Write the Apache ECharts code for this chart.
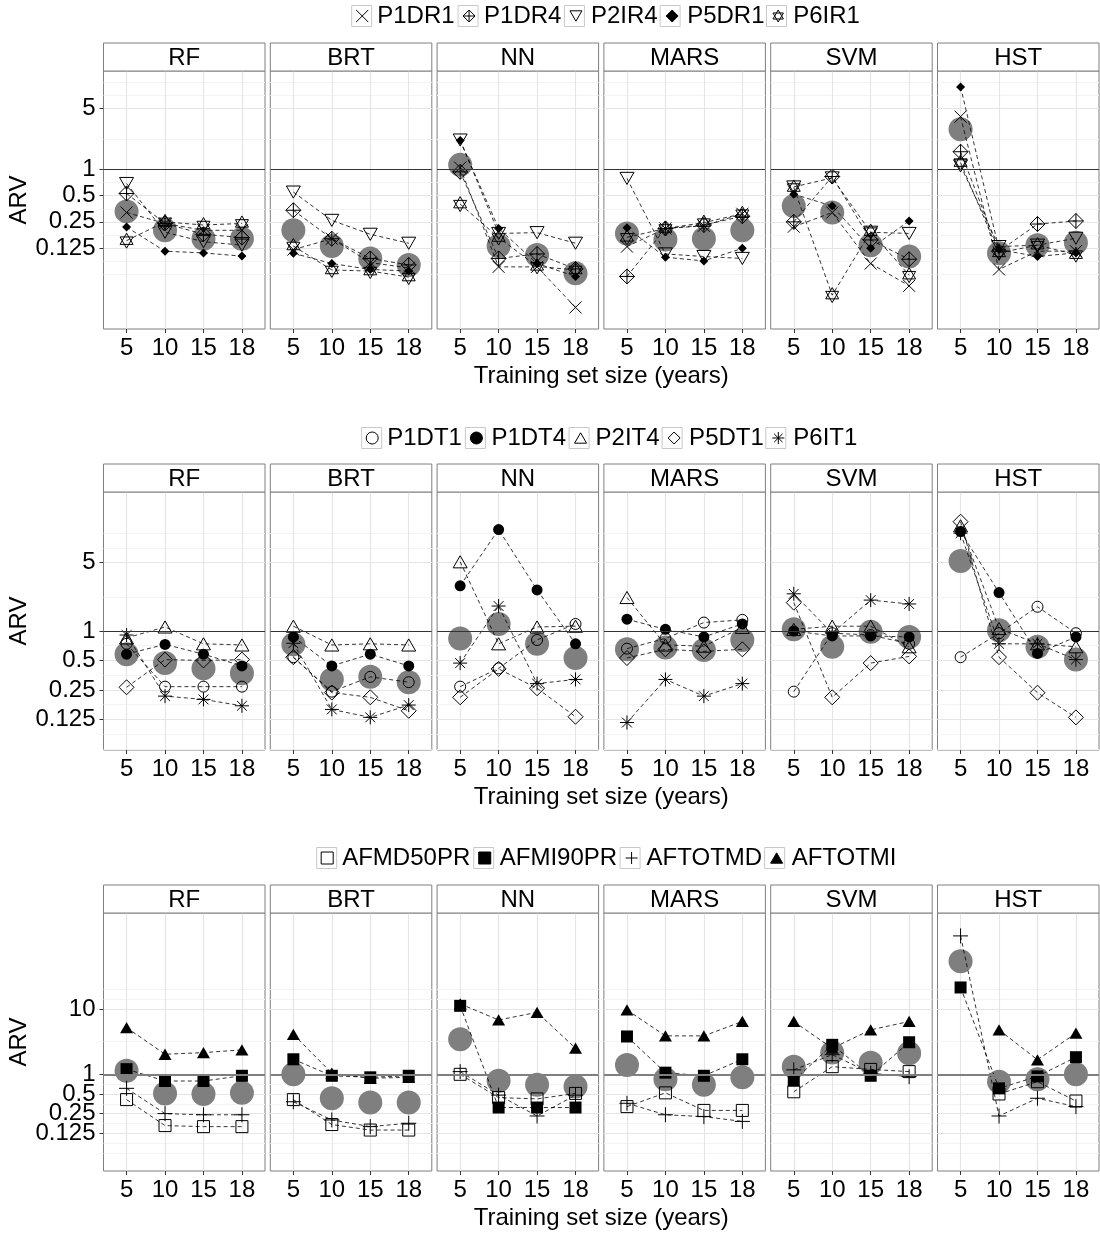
<!DOCTYPE html>
<html>
<head>
<meta charset="utf-8">
<title>ARV by training set size</title>
<script src="https://cdn.jsdelivr.net/npm/echarts@6/dist/echarts.min.js"></script>
<style>
  html, body { margin: 0; padding: 0; background: #fff; }
  #chart { width: 1100px; height: 1235px; }
</style>
</head>
<body>
<div id="chart"></div>
<script>
// ---- data (ARV values; one row of 4 per model panel) ----
const years = ['5', '10', '15', '18'];
const models = ['RF', 'BRT', 'NN', 'MARS', 'SVM', 'HST'];

// row 1
const P1DR1 = [[0.32, 0.24, 0.2, 0.2], [0.12, 0.16, 0.085, 0.074], [1.05, 0.076, 0.076, 0.026], [0.13, 0.21, 0.225, 0.31], [0.22, 0.32, 0.083, 0.046], [4.05, 0.071, 0.115, 0.115]];
const P1DR4 = [[0.53, 0.24, 0.18, 0.165], [0.34, 0.16, 0.095, 0.08], [0.94, 0.095, 0.107, 0.072], [0.059, 0.21, 0.23, 0.29], [0.25, 0.83, 0.155, 0.093], [1.6, 0.115, 0.236, 0.256]];
const P2IR4 = [[0.69, 0.19, 0.148, 0.135], [0.55, 0.26, 0.18, 0.142], [2.18, 0.184, 0.188, 0.142], [0.79, 0.107, 0.1, 0.095], [0.63, 0.8, 0.19, 0.184], [1.1, 0.13, 0.135, 0.162]];
const P5DR1 = [[0.218, 0.115, 0.11, 0.101], [0.109, 0.083, 0.071, 0.068], [2.15, 0.21, 0.083, 0.059], [0.214, 0.098, 0.089, 0.124], [0.52, 0.38, 0.124, 0.256], [8.9, 0.12, 0.1, 0.11]];
const P6IR1 = [[0.152, 0.25, 0.23, 0.24], [0.132, 0.07, 0.068, 0.058], [0.4, 0.165, 0.077, 0.07], [0.166, 0.21, 0.245, 0.31], [0.62, 0.036, 0.193, 0.061], [1.2, 0.11, 0.135, 0.105]];
const mean1 = [[0.33, 0.2, 0.16, 0.16], [0.2, 0.132, 0.095, 0.08], [1.13, 0.132, 0.104, 0.064], [0.184, 0.157, 0.16, 0.2], [0.38, 0.32, 0.135, 0.1], [2.9, 0.109, 0.135, 0.144]];

// row 2
const P1DT1 = [[0.74, 0.27, 0.27, 0.27], [0.54, 0.24, 0.34, 0.3], [0.27, 0.415, 0.81, 1.18], [0.66, 0.84, 1.22, 1.3], [0.24, 0.95, 0.91, 0.74], [0.54, 0.95, 1.77, 0.95]];
const P1DT4 = [[0.58, 0.73, 0.58, 0.44], [0.87, 0.44, 0.58, 0.44], [2.9, 10.9, 2.63, 0.74], [1.32, 1.04, 0.87, 1.18], [1.0, 0.89, 0.89, 0.87], [10.4, 2.47, 0.59, 0.87]];
const P2IT4 = [[0.85, 1.1, 0.74, 0.72], [1.12, 0.72, 0.74, 0.72], [5.1, 0.74, 1.1, 1.12], [2.2, 0.72, 0.7, 1.09], [1.04, 1.12, 1.12, 0.69], [11.9, 1.06, 0.74, 0.69]];
const P5DT1 = [[0.266, 0.51, 0.5, 0.51], [0.54, 0.235, 0.21, 0.153], [0.21, 0.41, 0.26, 0.133], [0.53, 0.65, 0.62, 0.65], [1.95, 0.21, 0.47, 0.55], [13.1, 0.54, 0.234, 0.131]];
const P6IT1 = [[0.91, 0.216, 0.2, 0.172], [0.75, 0.158, 0.131, 0.175], [0.47, 1.8, 0.29, 0.32], [0.116, 0.32, 0.216, 0.29], [2.4, 0.95, 2.07, 1.89], [10, 0.74, 0.74, 0.51]];
const mean2 = [[0.58, 0.47, 0.415, 0.37], [0.73, 0.32, 0.34, 0.3], [0.84, 1.18, 0.74, 0.53], [0.65, 0.68, 0.64, 0.81], [1.04, 0.69, 0.98, 0.87], [5.2, 1.02, 0.69, 0.51]];

// row 3
const AFMD50PR = [[0.41, 0.164, 0.158, 0.158], [0.41, 0.17, 0.14, 0.14], [1.0, 0.44, 0.42, 0.51], [0.32, 0.52, 0.28, 0.28], [0.54, 1.31, 1.19, 1.1], [null, 0.5, 0.77, 0.39]];
const AFMI90PR = [[1.2, 0.79, 0.79, 0.95], [1.7, 0.95, 0.9, 0.95], [11.2, 0.31, 0.31, 0.31], [3.8, 1.06, 0.95, 1.7], [0.8, 2.83, 0.95, 3.1], [21.4, 0.61, 0.93, 1.83]];
const AFTOTMD = [[0.61, 0.25, 0.24, 0.24], [0.38, 0.2, 0.158, 0.178], [1.1, 0.48, 0.23, 0.48], [0.36, 0.24, 0.225, 0.19], [1.17, 2.0, 1.04, 0.92], [132, 0.23, 0.43, 0.32]];
const AFTOTMI = [[5.2, 2.03, 2.15, 2.37], [4.1, 1.04, 0.87, 0.9], [12, 6.8, 8.9, 2.51], [9.7, 3.88, 3.88, 6.45], [6.45, 2.51, 4.8, 6.45], [null, 4.8, 1.67, 4.27]];
const mean3 = [[1.13, 0.51, 0.5, 0.52], [1.0, 0.43, 0.37, 0.37], [3.45, 0.8, 0.69, 0.65], [1.39, 0.84, 0.69, 0.9], [1.31, 2.15, 1.51, 2.1], [54, 0.77, 0.84, 1.0]];

// y breaks of each row
const ticks1 = [0.125, 0.25, 0.5, 1, 5];
const ticks2 = [0.125, 0.25, 0.5, 1, 5];
const ticks3 = [0.125, 0.25, 0.5, 1, 10];

// ---- look ----
const FONT = '"Liberation Sans", Arial, Helvetica, sans-serif';
const FS = 24;
const BORDER = '#7f7f7f';
const GRID_MAJOR = '#e5e5e5';
const GRID_MINOR = '#f4f4f4';

const PANEL_LEFT = 103.5, PANEL_W = 161.5, PANEL_STEP = 166.8, PANEL_H = 258, STRIP_H = 28;
const ROW_TOP = [71, 492, 913];
const LEGEND_BOX_LEFT = [351.7, 361.7, 316.7];
const LEGEND_MID = [16, 438, 858];
const LEGEND_GAP = 8;
const LEGEND_ICON = 12;

const SYM = {
  cross: 'path://M0 0L10 10M10 0L0 10',
  diamondPlus: 'path://M5 0L10 5L5 10L0 5ZM5 0L5 10M0 5L10 5',
  triDown: 'path://M0 0L10 0L5 8.66Z',
  diamond: 'path://M5 0L10 5L5 10L0 5Z',
  star: 'path://M5 0L10 8.66L0 8.66ZM0 2.89L10 2.89L5 11.55Z',
  circle: 'path://M0 5A5 5 0 1 1 10 5A5 5 0 1 1 0 5Z',
  triUp: 'path://M5 0L10 8.66L0 8.66Z',
  square: 'path://M0 0L10 0L10 10L0 10Z',
  plus: 'path://M5 0L5 10M0 5L10 5',
  asterisk: 'path://M5 0L5 10M0 5L10 5M1.5 1.5L8.5 8.5M8.5 1.5L1.5 8.5'
};

const rows = [
  {
    names: ['P1DR1', 'P1DR4', 'P2IR4', 'P5DR1', 'P6IR1'],
    values: [P1DR1, P1DR4, P2IR4, P5DR1, P6IR1],
    mean: mean1, ticks: ticks1, yMin: -6.09, yMax: 3.76,
    shapes: ['cross', 'diamondPlus', 'triDown', 'diamond', 'star'],
    sizes: [12, 15, 14, 9, 15],
    filled: [false, false, false, true, false],
    hline: { color: '#333', width: 1 }
  },
  {
    names: ['P1DT1', 'P1DT4', 'P2IT4', 'P5DT1', 'P6IT1'],
    values: [P1DT1, P1DT4, P2IT4, P5DT1, P6IT1],
    mean: mean2, ticks: ticks2, yMin: -4.04, yMax: 4.72,
    shapes: ['circle', 'circle', 'triUp', 'diamond', 'asterisk'],
    sizes: [11, 11, 14, 15, 14],
    filled: [false, true, false, false, false],
    hline: { color: '#333', width: 1 }
  },
  {
    names: ['AFMD50PR', 'AFMI90PR', 'AFTOTMD', 'AFTOTMI'],
    values: [AFMD50PR, AFMI90PR, AFTOTMD, AFTOTMI],
    mean: mean3, ticks: ticks3, yMin: -4.92, yMax: 8.21,
    shapes: ['square', 'square', 'plus', 'triUp'],
    sizes: [12, 12, 15, 13],
    filled: [false, true, false, true],
    hline: { color: '#7f7f7f', width: 2 }
  }
];

// ggplot-like minor breaks (midpoints in log space, one extra break past each end)
function minorBreaks(b, lo, hi) {
  const bd = b[1] - b[0];
  const ext = b.slice();
  if (lo < ext[0]) ext.unshift(ext[0] - bd);
  if (hi > ext[ext.length - 1]) ext.push(ext[ext.length - 1] + bd);
  const out = [];
  for (let i = 0; i < ext.length - 1; i++) out.push(ext[i], (ext[i] + ext[i + 1]) / 2);
  out.push(ext[ext.length - 1]);
  return out.filter(v => v >= lo && v <= hi);
}

const toPoints = arr => arr.map((v, i) => (v == null ? [i, '-'] : [i, Math.log2(v)]));
const fmtLog = v => String(+Math.pow(2, v).toFixed(3));

const grid = [], xAxis = [], yAxis = [], series = [], graphic = [], legend = [];
const measure = document.createElement('canvas').getContext('2d');
measure.font = FS + 'px ' + FONT;

const yLabelStyle = (show, values) => ({
  show: show, customValues: values, formatter: fmtLog, margin: 8,
  hideOverlap: false, showMinLabel: true, showMaxLabel: true,
  fontSize: FS, fontFamily: FONT, color: '#000'
});

rows.forEach((row, r) => {
  const top = ROW_TOP[r];
  const majors = row.ticks.map(Math.log2);
  const minors = minorBreaks(majors, row.yMin, row.yMax);
  // labels are split over two axes so ECharts never drops a close neighbour
  const labelsA = majors.filter((v, i) => i % 2 === 0);
  const labelsB = majors.filter((v, i) => i % 2 === 1);

  models.forEach((m, p) => {
    const g = r * models.length + p;
    const left = PANEL_LEFT + p * PANEL_STEP;
    const first = p === 0;

    grid.push({
      left: left, top: top, width: PANEL_W, height: PANEL_H,
      show: true, borderColor: BORDER, borderWidth: 1, backgroundColor: '#fff',
      containLabel: false, outerBoundsMode: 'none'
    });

    xAxis.push({
      gridIndex: g, type: 'value', min: -0.6, max: 3.6, position: 'bottom',
      axisLine: { show: false, onZero: false },
      axisTick: { show: true, length: 4, customValues: [0, 1, 2, 3], lineStyle: { color: '#333' } },
      axisLabel: { show: true, customValues: [0, 1, 2, 3], formatter: v => years[Math.round(v)], margin: 7,
        hideOverlap: false, showMinLabel: true, showMaxLabel: true,
        fontSize: FS, fontFamily: FONT, color: '#000' },
      splitLine: { show: true, lineStyle: { color: GRID_MAJOR, width: 1.2 } }
    });

    // major axis (half the labels, ticks, major grid)
    yAxis.push({
      gridIndex: g, type: 'value', min: row.yMin, max: row.yMax, position: 'left',
      name: first ? 'ARV' : '', nameLocation: 'middle', nameRotate: 90, nameGap: 66,
      nameTextStyle: { fontSize: FS, fontFamily: FONT, color: '#000' },
      axisLine: { show: false, onZero: false },
      axisTick: { show: first, length: 4, customValues: majors, lineStyle: { color: '#333' } },
      axisLabel: yLabelStyle(first, labelsA),
      splitLine: { show: true, lineStyle: { color: GRID_MAJOR, width: 1.2 } },
      z: 1
    });
    // minor grid + other half of the labels
    yAxis.push({
      gridIndex: g, type: 'value', min: row.yMin, max: row.yMax, position: 'left',
      axisLine: { show: false, onZero: false },
      axisTick: { show: false, customValues: minors },
      axisLabel: yLabelStyle(first, labelsB),
      splitLine: { show: true, lineStyle: { color: GRID_MINOR, width: 1 } },
      z: 0
    });

    // grey summary circles + reference line at ARV = 1
    series.push({
      type: 'scatter', xAxisIndex: g, yAxisIndex: 2 * g,
      data: toPoints(row.mean[p]),
      symbol: 'circle', symbolSize: 24,
      itemStyle: { color: '#7f7f7f', opacity: 1 },
      z: 2, silent: true,
      markLine: {
        silent: true, symbol: ['none', 'none'], label: { show: false },
        lineStyle: { color: row.hline.color, width: row.hline.width, type: 'solid' },
        data: [{ yAxis: 0 }]
      }
    });

    row.names.forEach((name, s) => {
      series.push({
        name: name, type: 'line', xAxisIndex: g, yAxisIndex: 2 * g,
        data: toPoints(row.values[s][p]),
        symbol: SYM[row.shapes[s]], symbolSize: row.sizes[s], symbolKeepAspect: true,
        showSymbol: true, connectNulls: false,
        lineStyle: { color: '#000', width: 0.8, type: [4, 3] },
        itemStyle: row.filled[s]
          ? { color: '#000', borderColor: '#000', borderWidth: 0 }
          : { color: 'transparent', borderColor: '#000', borderWidth: 1 },
        emphasis: { disabled: true },
        z: 3, silent: true
      });
    });

    // facet strip
    graphic.push({
      type: 'rect', z: 10,
      shape: { x: left, y: top - STRIP_H, width: PANEL_W, height: STRIP_H },
      style: { fill: '#fff', stroke: BORDER, lineWidth: 1 }
    });
    graphic.push({
      type: 'text', z: 11, x: left + PANEL_W / 2, y: top - STRIP_H / 2 + 1,
      style: { text: m, font: FS + 'px ' + FONT, fill: '#000',
        textAlign: 'center', textVerticalAlign: 'middle', align: 'center', verticalAlign: 'middle' }
    });
  });

  // x axis title
  graphic.push({
    type: 'text', z: 11, x: PANEL_LEFT + (5 * PANEL_STEP + PANEL_W) / 2, y: top + PANEL_H + 47.7,
    style: { text: 'Training set size (years)', font: FS + 'px ' + FONT, fill: '#000',
      textAlign: 'center', textVerticalAlign: 'middle', align: 'center', verticalAlign: 'middle' }
  });

  // legend key boxes
  const inset = (20 - LEGEND_ICON) / 2;
  let x = LEGEND_BOX_LEFT[r] + inset;
  row.names.forEach(name => {
    graphic.push({
      type: 'rect', z: 0,
      shape: { x: x - inset, y: LEGEND_MID[r] - 10.5, width: 20, height: 21 },
      style: { fill: '#fff', stroke: '#c8c8c8', lineWidth: 1 }
    });
    x += LEGEND_ICON + 5 + 4 + measure.measureText(name).width + LEGEND_GAP;
  });

  legend.push({
    orient: 'horizontal', left: LEGEND_BOX_LEFT[r] + inset, top: LEGEND_MID[r] - 13, padding: 0,
    itemWidth: LEGEND_ICON, itemHeight: LEGEND_ICON, itemGap: LEGEND_GAP, symbolKeepAspect: true,
    selectedMode: false,
    data: row.names.map((n, i) => ({ name: n, icon: SYM[row.shapes[i]] })),
    itemStyle: { borderWidth: 1 },
    textStyle: { fontSize: FS, fontFamily: FONT, color: '#000', lineHeight: 26, padding: [0, 0, 0, 4] }
  });
});

const chart = echarts.init(document.getElementById('chart'), null, { renderer: 'canvas' });
chart.setOption({
  animation: false,
  backgroundColor: '#fff',
  textStyle: { fontFamily: FONT },
  grid: grid,
  xAxis: xAxis,
  yAxis: yAxis,
  legend: legend,
  graphic: graphic,
  series: series
});
</script>
</body>
</html>
